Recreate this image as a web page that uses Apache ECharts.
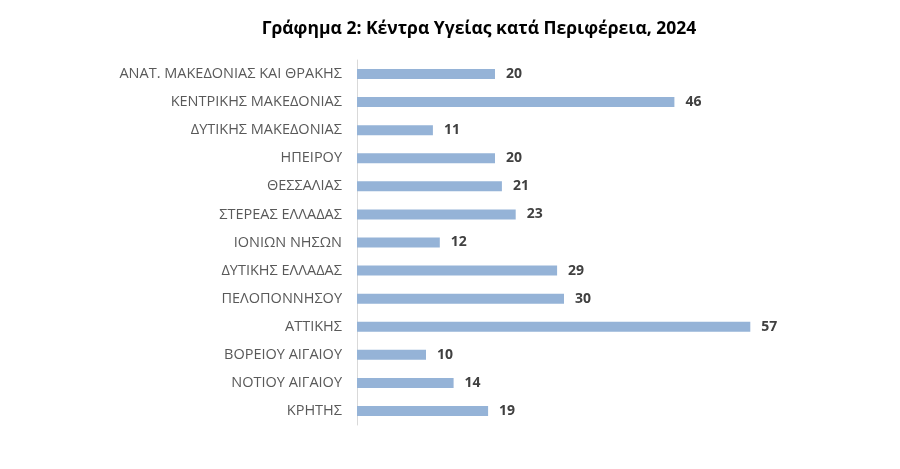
<!DOCTYPE html>
<html lang="el">
<head>
    <meta charset="UTF-8">
    <title>Κέντρα Υγείας κατά Περιφέρεια, 2024</title>
    <script src="https://cdn.jsdelivr.net/npm/echarts@6/dist/echarts.min.js"></script>
    <style>
        html, body { margin: 0; padding: 0; background: #fff; }
    </style>
</head>
<body>
<div id="chart" style="width: 900px;height:469px;"></div>
<script type="text/javascript">
    // περιφέρειες, από πάνω προς τα κάτω
    var regions = [
        'ΑΝΑΤ. ΜΑΚΕΔΟΝΙΑΣ ΚΑΙ ΘΡΑΚΗΣ',
        'ΚΕΝΤΡΙΚΗΣ ΜΑΚΕΔΟΝΙΑΣ',
        'ΔΥΤΙΚΗΣ ΜΑΚΕΔΟΝΙΑΣ',
        'ΗΠΕΙΡΟΥ',
        'ΘΕΣΣΑΛΙΑΣ',
        'ΣΤΕΡΕΑΣ ΕΛΛΑΔΑΣ',
        'ΙΟΝΙΩΝ ΝΗΣΩΝ',
        'ΔΥΤΙΚΗΣ ΕΛΛΑΔΑΣ',
        'ΠΕΛΟΠΟΝΝΗΣΟΥ',
        'ΑΤΤΙΚΗΣ',
        'ΒΟΡΕΙΟΥ ΑΙΓΑΙΟΥ',
        'ΝΟΤΙΟΥ ΑΙΓΑΙΟΥ',
        'ΚΡΗΤΗΣ'
    ];
    var centers = [20, 46, 11, 20, 21, 23, 12, 29, 30, 57, 10, 14, 19];

    var font = '"Open Sans", "Noto Sans", sans-serif';
    var mychart = echarts.init(document.getElementById('chart'));
    var option = {
        animation: false,
        title: {
            text: 'Γράφημα 2: Κέντρα Υγείας κατά Περιφέρεια, 2024',
            left: 474,
            textAlign: 'center',
            top: 15,
            textStyle: {
                fontFamily: font,
                fontSize: 17.5,
                fontWeight: 'bold',
                color: '#000'
            }
        },
        grid: {
            left: 357,
            top: 60,
            width: 414,
            height: 365
        },
        xAxis: {
            type: 'value',
            min: 0,
            max: 60,
            show: false
        },
        yAxis: {
            type: 'category',
            inverse: true,
            data: regions,
            axisTick: { show: false },
            axisLine: { lineStyle: { color: '#d9d9d9', width: 1 } },
            axisLabel: {
                margin: 15,
                fontFamily: font,
                fontSize: 14.5,
                color: '#595959'
            }
        },
        series: [{
            type: 'bar',
            data: centers,
            barWidth: 10,
            itemStyle: { color: '#95b3d7' },
            label: {
                show: true,
                position: 'right',
                distance: 11,
                fontFamily: font,
                fontSize: 14,
                fontWeight: 'bold',
                color: '#404040'
            }
        }]
    };
    mychart.setOption(option);
</script>
</body>
</html>
